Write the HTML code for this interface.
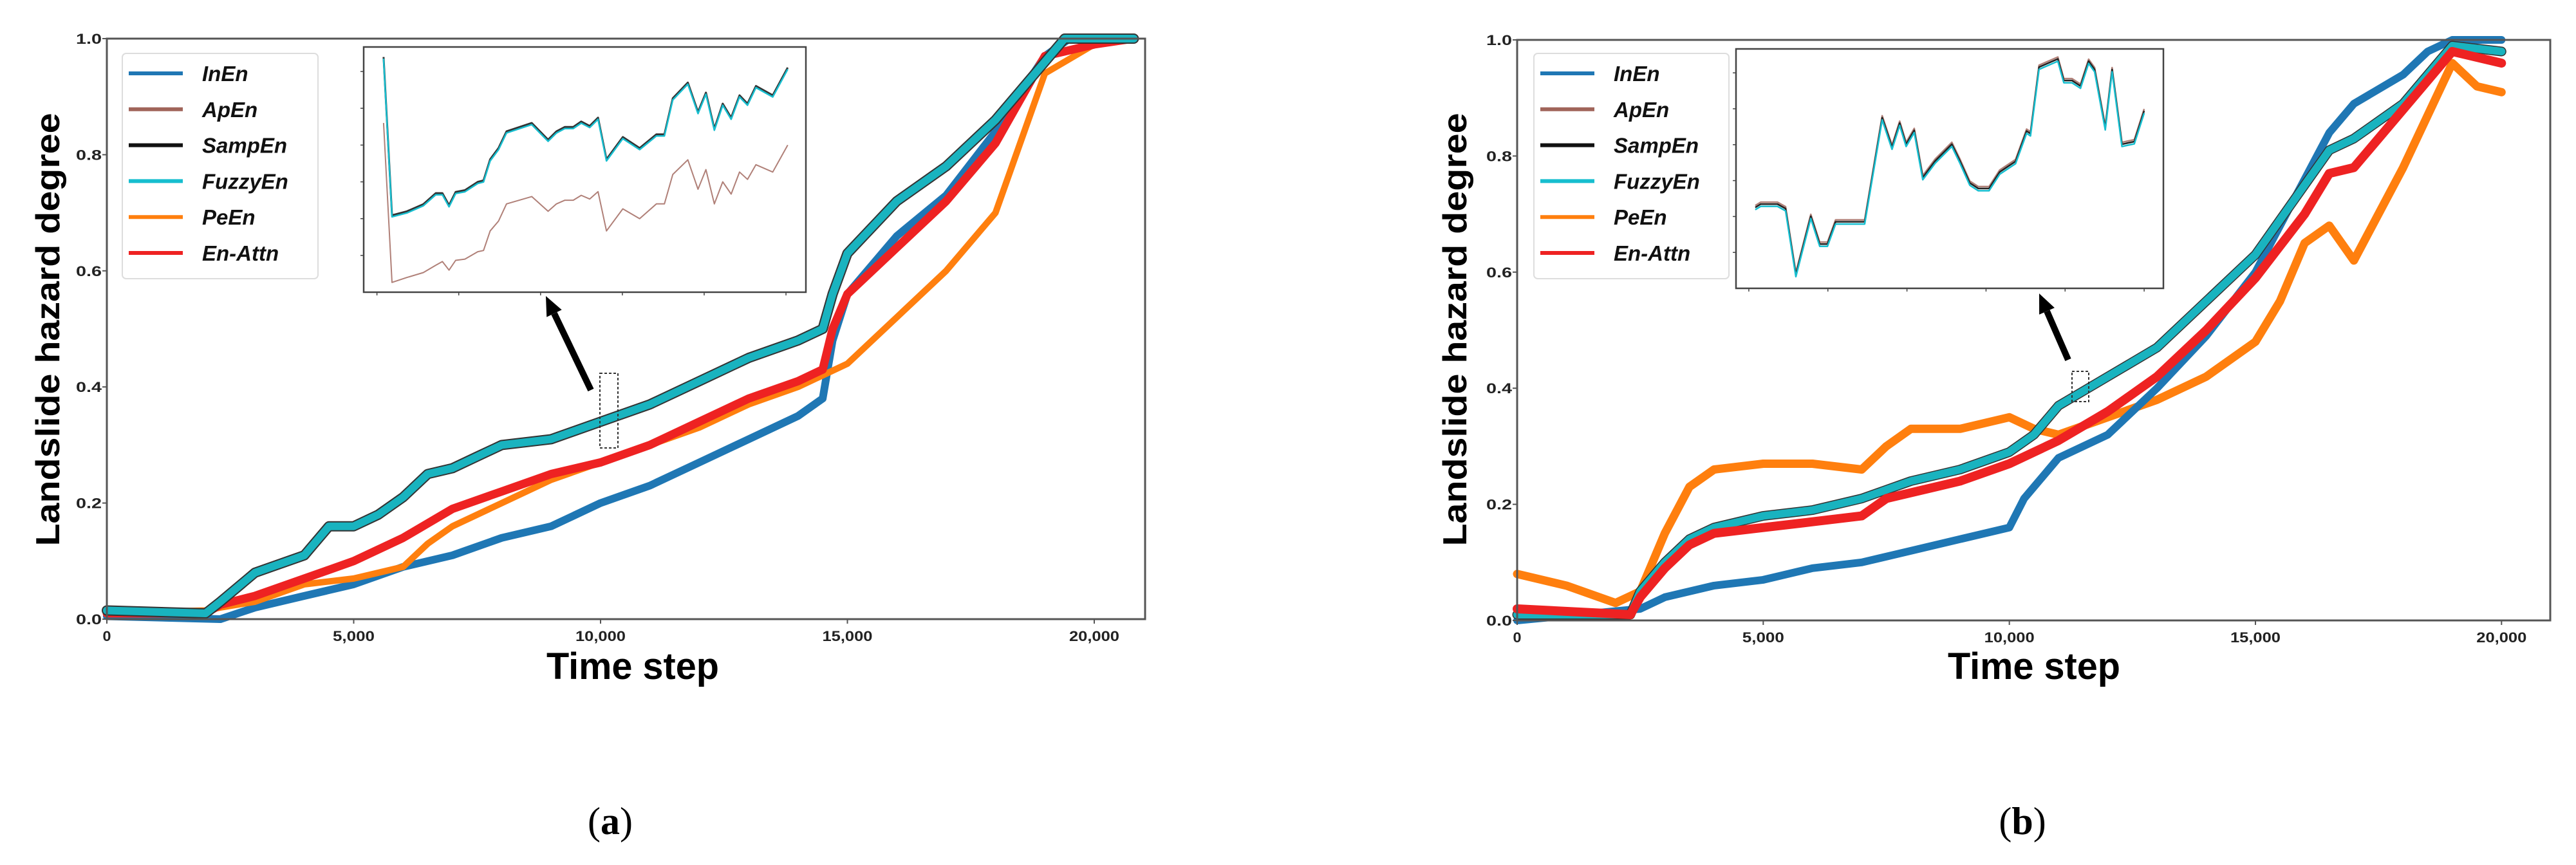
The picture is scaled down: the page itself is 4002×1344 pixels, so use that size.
<!DOCTYPE html>
<html><head><meta charset="utf-8"><style>
html,body{margin:0;padding:0;background:#fff;}
svg{display:block;}
.tk{font-family:"Liberation Sans Narrow","Liberation Sans",sans-serif;font-weight:bold;font-size:22px;fill:#222;}
.lg{font-family:"Liberation Sans",sans-serif;font-weight:bold;font-style:italic;font-size:33px;fill:#111;}
.ax{font-family:"Liberation Sans",sans-serif;font-weight:bold;fill:#000;}
</style></head><body>
<svg id="fig" width="4002" height="1344" viewBox="0 0 4002 1344" xmlns="http://www.w3.org/2000/svg"></svg>
<script>
// ---------- data: chart (a) ----------
const aX_Fuzzy=[0,2000,2300,3000,4000,4500,5000,5500,6000,6500,7000,7500,8000,9000,10000,11000,12000,13000,14000,14500,14700,15000,16000,17000,18000,19000,19400,20800];
const aY_Fuzzy=[0.015,0.01,0.03,0.08,0.11,0.16,0.16,0.18,0.21,0.25,0.26,0.28,0.3,0.31,0.34,0.37,0.41,0.45,0.48,0.5,0.56,0.63,0.72,0.78,0.86,0.96,1.0,1.0];
const aX_Attn=[0,2000,2300,3000,4000,5000,6000,7000,8000,9000,10000,11000,12000,13000,14000,14500,14700,15000,16000,17000,18000,19000,20000,20800];
const aY_Attn=[0.01,0.01,0.025,0.04,0.07,0.1,0.14,0.19,0.22,0.25,0.27,0.3,0.34,0.38,0.41,0.43,0.5,0.56,0.64,0.72,0.82,0.97,0.99,1.0];
const aX_Pe=[0,2000,2300,3000,4000,5000,6000,6500,7000,8000,9000,10000,11000,12000,13000,14000,14500,15000,16000,17000,18000,19000,20000,20800];
const aY_Pe=[0.01,0.015,0.02,0.03,0.06,0.07,0.09,0.13,0.16,0.2,0.24,0.27,0.3,0.33,0.37,0.4,0.42,0.44,0.52,0.6,0.7,0.94,0.99,1.0];
const aX_In=[0,2300,3000,4000,5000,6000,7000,8000,9000,10000,11000,12000,13000,14000,14500,14700,15000,16000,17000,18000,19000,19500,20800];
const aY_In=[0.005,0.0,0.02,0.04,0.06,0.09,0.11,0.14,0.16,0.2,0.23,0.27,0.31,0.35,0.38,0.48,0.56,0.66,0.73,0.84,0.97,1.0,1.0];
// inset (a): normalized position t and value v
const aInsT=[0.045,0.064,0.098,0.135,0.163,0.178,0.193,0.208,0.229,0.258,0.271,0.286,0.305,0.323,0.380,0.417,0.436,0.455,0.474,0.492,0.511,0.530,0.549,0.586,0.624,0.662,0.680,0.699,0.733,0.756,0.774,0.793,0.812,0.831,0.850,0.868,0.887,0.925,0.959];
const aInsCyan=[0.955,0.310,0.326,0.355,0.400,0.400,0.351,0.405,0.412,0.446,0.452,0.538,0.584,0.652,0.686,0.618,0.652,0.670,0.670,0.692,0.674,0.708,0.538,0.629,0.584,0.640,0.640,0.787,0.851,0.731,0.810,0.663,0.765,0.708,0.799,0.765,0.837,0.799,0.912];
const aInsAp=[0.690,0.040,0.060,0.080,0.110,0.125,0.090,0.130,0.135,0.165,0.170,0.250,0.290,0.360,0.390,0.330,0.360,0.375,0.375,0.395,0.380,0.410,0.250,0.340,0.300,0.360,0.360,0.480,0.540,0.420,0.500,0.360,0.450,0.400,0.490,0.460,0.520,0.490,0.600];
// ---------- data: chart (b) ----------
const bX_Pe=[0,1000,2000,2500,3000,3500,4000,5000,6000,7000,7500,8000,9000,10000,10500,11000,12000,13000,14000,15000,15500,16000,16500,17000,18000,19000,19500,20000];
const bY_Pe=[0.08,0.06,0.03,0.05,0.15,0.23,0.26,0.27,0.27,0.26,0.3,0.33,0.33,0.35,0.33,0.32,0.35,0.38,0.42,0.48,0.55,0.65,0.68,0.62,0.78,0.96,0.92,0.91];
const bX_Fuzzy=[0,2300,2500,3000,3500,4000,5000,6000,7000,8000,9000,10000,10500,11000,12000,13000,14000,15000,16000,16500,17000,18000,19000,20000];
const bY_Fuzzy=[0.01,0.01,0.05,0.1,0.14,0.16,0.18,0.19,0.21,0.24,0.26,0.29,0.32,0.37,0.42,0.47,0.55,0.63,0.75,0.81,0.83,0.89,0.99,0.98];
const bX_Attn=[0,2300,2500,3000,3500,4000,5000,6000,7000,7500,8000,9000,10000,11000,12000,13000,14000,15000,16000,16500,17000,18000,19000,20000];
const bY_Attn=[0.02,0.01,0.04,0.09,0.13,0.15,0.16,0.17,0.18,0.21,0.22,0.24,0.27,0.31,0.36,0.42,0.5,0.59,0.7,0.77,0.78,0.88,0.98,0.96];
const bX_In=[0,2500,3000,4000,5000,6000,7000,8000,9000,10000,10300,11000,12000,13000,14000,15000,16000,16500,17000,18000,18500,19000,20000];
const bY_In=[0.0,0.02,0.04,0.06,0.07,0.09,0.1,0.12,0.14,0.16,0.21,0.28,0.32,0.4,0.49,0.6,0.76,0.84,0.89,0.94,0.98,1.0,1.0];
const bInsT=[0.045,0.058,0.097,0.116,0.140,0.175,0.196,0.214,0.233,0.301,0.342,0.365,0.383,0.398,0.417,0.437,0.466,0.505,0.524,0.547,0.567,0.592,0.617,0.654,0.680,0.689,0.709,0.753,0.767,0.786,0.806,0.825,0.839,0.864,0.880,0.903,0.932,0.955];
const bInsV=[0.338,0.352,0.352,0.333,0.058,0.301,0.185,0.185,0.278,0.278,0.713,0.590,0.690,0.602,0.660,0.463,0.532,0.602,0.532,0.440,0.417,0.417,0.486,0.530,0.657,0.646,0.924,0.958,0.868,0.868,0.845,0.949,0.914,0.671,0.914,0.602,0.613,0.741];
const yTicks=[0.0,0.2,0.4,0.6,0.8,1.0];
const yTickLabels=["0.0","0.2","0.4","0.6","0.8","1.0"];
const xTicks=[0,5000,10000,15000,20000];
const xTickLabels=["0","5,000","10,000","15,000","20,000"];
const legendNames=["InEn","ApEn","SampEn","FuzzyEn","PeEn","En-Attn"];
const legendColors=["#1f77b4","#a0645a","#111111","#17becf","#ff7f0e","#ee2222"];

const NS="http://www.w3.org/2000/svg";
const svg=document.getElementById('fig');
function mk(tag,attrs,parent){const e=document.createElementNS(NS,tag);for(const k in attrs)e.setAttribute(k,attrs[k]);(parent||svg).appendChild(e);return e;}

function drawChart(cfg){
  const g=mk('g',{});
  
  
  const X=v=>cfg.x0+(v/cfg.xmax)*(cfg.x1-cfg.x0);
  const Y=v=>cfg.y0-v*(cfg.y0-cfg.y1);
  const path=(xs,ys)=>xs.map((x,i)=>(i?'L':'M')+X(x).toFixed(1)+' '+Y(ys[i]).toFixed(1)).join(' ');
  cfg.series.forEach(s=>{
    const p=mk('path',{d:path(s.x,s.y),fill:'none',stroke:s.c,'stroke-width':s.w,'stroke-linejoin':'round','stroke-linecap':'round'},g);
    
    
  });
  const fr=mk('rect',{x:cfg.x0,y:cfg.y1,width:cfg.x1-cfg.x0,height:cfg.y0-cfg.y1,fill:'none',stroke:'#555','stroke-width':3},g);
  
  
  yTicks.forEach((v,i)=>{
    mk('line',{x1:cfg.x0-7,x2:cfg.x0,y1:Y(v),y2:Y(v),stroke:'#555','stroke-width':2},g);
    const t=mk('text',{x:cfg.x0-8,y:Y(v)+8,'text-anchor':'end',class:'tk',textLength:40,lengthAdjust:'spacingAndGlyphs'},g);
    t.textContent=yTickLabels[i];
    
    
  });
  xTicks.forEach((v,i)=>{
    mk('line',{x1:X(v),x2:X(v),y1:cfg.y0,y2:cfg.y0+7,stroke:'#555','stroke-width':2},g);
    const L=xTickLabels[i];
    const t=mk('text',{x:X(v),y:cfg.y0+34,'text-anchor':'middle',class:'tk',textLength:L.length*13,lengthAdjust:'spacingAndGlyphs'},g);
    t.textContent=L;
    
    
  });
  const xt=mk('text',{x:cfg.xtX,y:1055,'text-anchor':'middle',class:'ax','font-size':58,textLength:268,lengthAdjust:'spacingAndGlyphs'},g);
  xt.textContent='Time step';
  
  
  const yt=mk('text',{x:0,y:0,'text-anchor':'middle',class:'ax','font-size':52,textLength:673,lengthAdjust:'spacingAndGlyphs',transform:`translate(${cfg.ytX},512) rotate(-90)`},g);
  yt.textContent='Landslide hazard degree';
  
  
  const lg=mk('g',{},g);
  
  
  mk('rect',{x:cfg.lx,y:83,width:cfg.lw,height:350,rx:6,fill:'#fff',stroke:'#ddd','stroke-width':2},lg);
  legendNames.forEach((n,i)=>{
    const yy=114+i*55.8;
    const e=mk('g',{},lg);
    
    
    mk('line',{x1:cfg.lx+10,x2:cfg.lx+94,y1:yy,y2:yy,stroke:legendColors[i],'stroke-width':6},e);
    const t=mk('text',{x:cfg.lx+124,y:yy+12,class:'lg'},e);
    t.textContent=n;
  });
  const ig=mk('g',{},g);
  
  
  const I=cfg.inset;
  mk('rect',{x:I.x,y:I.y,width:I.w,height:I.h,fill:'#fff',stroke:'#444','stroke-width':2.5},ig);
  const IX=t=>I.x+t*I.w, IY=v=>I.y+I.h-v*I.h;
  for(let k=0;k<6;k++){mk('line',{x1:I.x,x2:I.x-5,y1:I.y+I.h*(0.1+k*0.15),y2:I.y+I.h*(0.1+k*0.15),stroke:'#444','stroke-width':1.5},ig);}
  for(let k=0;k<6;k++){mk('line',{x1:I.x+I.w*(0.03+k*0.185),x2:I.x+I.w*(0.03+k*0.185),y1:I.y+I.h,y2:I.y+I.h+5,stroke:'#444','stroke-width':1.5},ig);}
  I.lines.forEach(s=>{
    const p=mk('path',{d:cfg.insT.map((t,i)=>(i?'L':'M')+IX(t).toFixed(1)+' '+(IY(s.v[i])+s.off).toFixed(1)).join(' '),fill:'none',stroke:s.c,'stroke-width':s.w,'stroke-linejoin':'round'},ig);
    
    
  });
  const db=mk('rect',Object.assign({fill:'none',stroke:'#333','stroke-width':2,'stroke-dasharray':'4 3'},cfg.box),g);
  
  
  const A=cfg.arrow;
  const dx=A[2]-A[0],dy=A[3]-A[1],L=Math.hypot(dx,dy),ux=dx/L,uy=dy/L;
  const bx=A[2]-ux*30,by=A[3]-uy*30;
  mk('line',{x1:A[0],y1:A[1],x2:bx,y2:by,stroke:'#000','stroke-width':10},g);
  const ah=mk('polygon',{points:`${A[2]},${A[3]} ${bx-uy*13},${by+ux*13} ${bx+uy*13},${by-ux*13}`,fill:'#000'},g);
  
  
  const cap=mk('text',{x:cfg.capX,y:1296,'text-anchor':'middle','font-family':'"Liberation Serif",serif','font-size':60,fill:'#000'},g);
  cap.innerHTML='(<tspan font-weight="bold">'+cfg.cap+'</tspan>)';
  
  
}

drawChart({name:'chart-a',x0:166,x1:1779,xmax:21030,y0:962,y1:60,xtX:983,ytX:92,lx:190,lw:304,
  series:[
    {n:'inen-line',x:aX_In,y:aY_In,c:'#1f77b4',w:12},
    {n:'peen-line',x:aX_Pe,y:aY_Pe,c:'#ff7f0e',w:10},
    {n:'en-attn-line',x:aX_Attn,y:aY_Attn,c:'#ee2222',w:13},
    {n:'apen-line',x:aX_Fuzzy,y:aY_Fuzzy,c:'#333',w:16},
    {n:'fuzzyen-line',x:aX_Fuzzy,y:aY_Fuzzy,c:'#19b3bf',w:12}],
  insT:aInsT,
  inset:{x:565,y:73,w:687,h:381,lines:[
    {n:'inset-apen',v:aInsAp,c:'#b08078',w:2,off:0},
    {n:'inset-sampen',v:aInsCyan,c:'#333',w:3,off:-1.5},
    {n:'inset-fuzzyen',v:aInsCyan,c:'#17becf',w:2.5,off:1}]},
  box:{x:932,y:580,width:28,height:116},arrow:[918,606,848,460],capX:948,cap:'a'});

drawChart({name:'chart-b',x0:2357,x1:3962,xmax:20990,y0:964,y1:62,xtX:3160,ytX:2278,lx:2383,lw:303,
  series:[
    {n:'peen-line',x:bX_Pe,y:bY_Pe,c:'#ff7f0e',w:13},
    {n:'inen-line',x:bX_In,y:bY_In,c:'#1f77b4',w:12},
    {n:'apen-line',x:bX_Fuzzy,y:bY_Fuzzy,c:'#333',w:15},
    {n:'fuzzyen-line',x:bX_Fuzzy,y:bY_Fuzzy,c:'#19b3bf',w:12},
    {n:'en-attn-line',x:bX_Attn,y:bY_Attn,c:'#ee2222',w:14}],
  insT:bInsT,
  inset:{x:2697,y:76,w:664,h:372,lines:[
    {n:'inset-apen',v:bInsV,c:'#b08078',w:2.5,off:-3},
    {n:'inset-sampen',v:bInsV,c:'#222',w:2.5,off:0},
    {n:'inset-fuzzyen',v:bInsV,c:'#17becf',w:2.5,off:3.5}]},
  box:{x:3219,y:577,width:26,height:47},arrow:[3213,559,3168,456],capX:3142,cap:'b'});
</script>
</body></html>
